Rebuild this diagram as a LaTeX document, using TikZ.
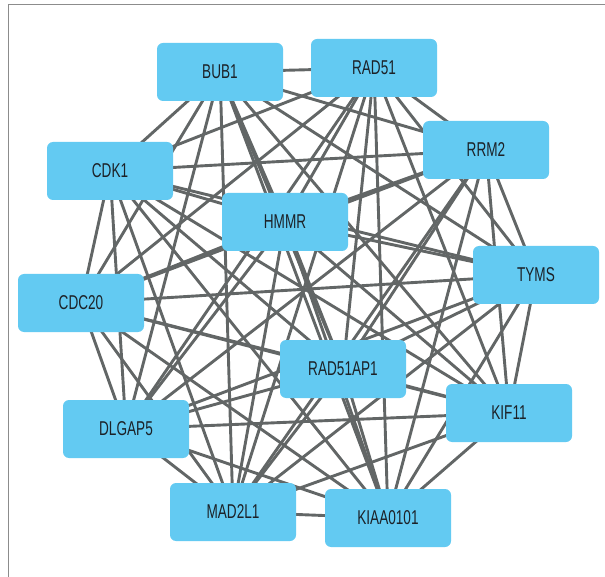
\documentclass[tikz,border=0pt]{standalone}
\usepackage{fontspec}
\setmainfont{Liberation Sans}[FakeStretch=0.68]
\pgfdeclarelayer{background}
\pgfsetlayers{background,main}
\definecolor{nodeblue}{RGB}{99,202,242}
\definecolor{edgegray}{RGB}{98,102,102}
\definecolor{textdark}{RGB}{28,34,40}
\definecolor{framegray}{RGB}{140,140,140}
\begin{document}
\begin{tikzpicture}[x=1pt,y=-1pt,
  gene/.style={rectangle, rounded corners=6pt, fill=nodeblue, minimum width=126pt, minimum height=58pt, inner sep=0pt, text=textdark, font=\fontsize{20}{22}\selectfont},
  edge/.style={draw=edgegray, line width=2.9pt},
  frameline/.style={draw=framegray, line width=1.3pt}]
\useasboundingbox (0,0) rectangle (605,577);
\coordinate (fTL) at (8.5,4.5);
\coordinate (fTR) at (605,4.5);
\coordinate (fBL) at (8.5,577);
\draw[frameline] (fTR) -- (fTL) -- (fBL);
\node[gene] (BUB1) at (220,72) {BUB1};
\node[gene] (RAD51) at (374,68) {RAD51};
\node[gene] (RRM2) at (486,150) {RRM2};
\node[gene] (CDK1) at (110,171) {CDK1};
\node[gene] (HMMR) at (285,222) {HMMR};
\node[gene] (TYMS) at (536,275) {TYMS};
\node[gene] (CDC20) at (81,303) {CDC20};
\node[gene] (RAD51AP1) at (343,369) {RAD51AP1};
\node[gene] (KIF11) at (509,413) {KIF11};
\node[gene] (DLGAP5) at (126,429) {DLGAP5};
\node[gene] (MAD2L1) at (233,512) {MAD2L1};
\node[gene] (KIAA0101) at (388,518) {KIAA0101};
\begin{pgfonlayer}{background}
\foreach \a [count=\i] in {BUB1,RAD51,RRM2,CDK1,HMMR,TYMS,CDC20,RAD51AP1,KIF11,DLGAP5,MAD2L1,KIAA0101}{
  \foreach \b [count=\j] in {BUB1,RAD51,RRM2,CDK1,HMMR,TYMS,CDC20,RAD51AP1,KIF11,DLGAP5,MAD2L1,KIAA0101}{
    \ifnum\j>\i \draw[edge] (\a.center) -- (\b.center); \fi
  }
}
\end{pgfonlayer}
\end{tikzpicture}
\end{document}
